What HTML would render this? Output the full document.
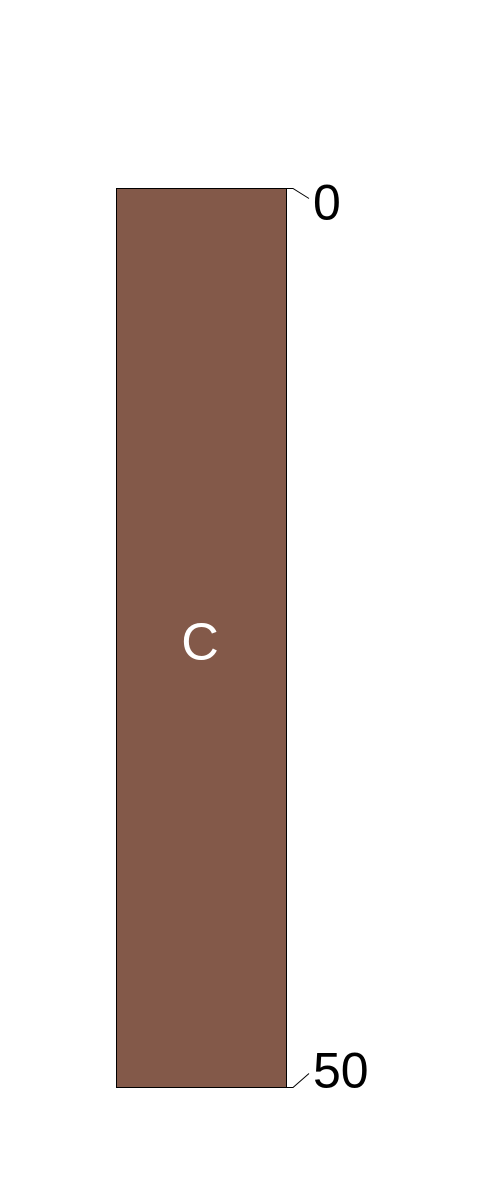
<!DOCTYPE html>
<html><head><meta charset="utf-8"><style>
html,body{margin:0;padding:0;background:#fff;}
svg{display:block;font-family:"Liberation Sans",sans-serif;}
</style></head><body>
<svg width="500" height="1200" viewBox="0 0 500 1200">
<g id="chart"></g>
</svg>
<script>
const layerNames = ["C"];
const layerTops = [0];
const layerBottoms = [50];
const layerColors = ["#835949"];
const depthTicks = [0, 50];
const tickLabels = ["0", "50"];

const y0 = 188, y1 = 1087, dMin = 0, dMax = 50;
const yScale = d => y0 + (d - dMin) / (dMax - dMin) * (y1 - y0);
const xL = 116, xR = 286;
const ns = "http://www.w3.org/2000/svg";
const g = document.getElementById('chart');
function mk(tag, attrs){const e=document.createElementNS(ns,tag);for(const k in attrs)e.setAttribute(k,attrs[k]);return e;}

layerNames.forEach((n,i)=>{
  const yt=yScale(layerTops[i]), yb=yScale(layerBottoms[i]);
  const r=mk('rect',{x:xL+0.5,y:yt+0.5,width:xR-xL,height:yb-yt,fill:layerColors[i],stroke:'#000','stroke-width':1});
  
  
  g.appendChild(r);
  const t=mk('text',{x:(xL+xR)/2-1,y:(yt+yb)/2+22,'text-anchor':'middle','font-size':52,fill:'#fff'});
  t.textContent=n;
  
  
  g.appendChild(t);
});

depthTicks.forEach((d,i)=>{
  const y=yScale(d)+0.5;
  const ly = i===0 ? y+10 : y-14;
  const p=mk('polyline',{points:`${xR},${y} ${xR+7},${y} ${xR+23},${ly}`,fill:'none',stroke:'#000','stroke-width':1});
  
  
  g.appendChild(p);
  const t=mk('text',{x:313,y:(i===0? y+31 : y),'font-size':50,fill:'#000'});
  t.textContent=tickLabels[i];
  
  
  g.appendChild(t);
});
</script>
</body></html>
